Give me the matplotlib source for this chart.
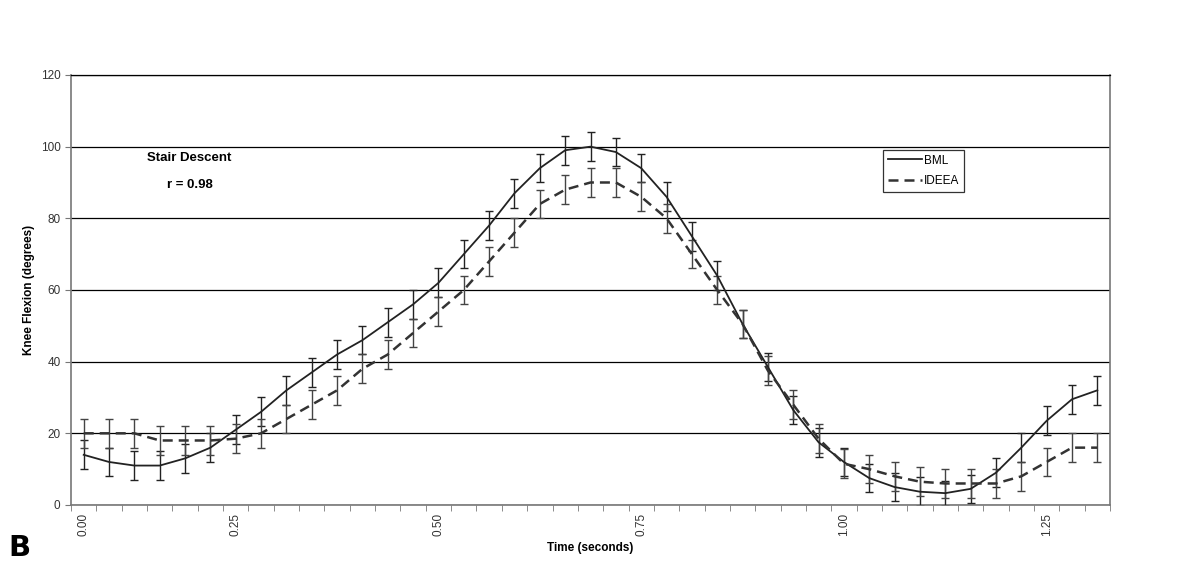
import numpy as np
import matplotlib
matplotlib.use("Agg")
import matplotlib.pyplot as plt

plt.rcParams['font.family'] = ['Liberation Sans', 'DejaVu Sans']

# knee flexion (degrees), one value per sample (category)
bml = [14, 12, 11, 11, 13, 16, 21, 26, 32, 37, 42, 46, 51, 56, 62, 70, 78, 87, 94, 99,
       100, 98.5, 94, 86, 75, 64, 50.5, 38.5, 26.5, 17.5, 12, 7.5, 5, 3.7, 3.3, 4.5, 9,
       16, 23.5, 29.5, 32]
bml_err = [4, 4, 4, 4, 4, 4, 4, 4, 4, 4, 4, 4, 4, 4, 4, 4, 4, 4, 4, 4,
           4, 4, 4, 4, 4, 4, 4, 4, 4, 4, 4, 4, 4, 4, 3.5, 4, 4,
           4, 4, 4, 4]
ideea = [20, 20, 20, 18, 18, 18, 18.5, 20, 24, 28, 32, 38, 42, 48, 54, 60, 68, 76, 84, 88,
         90, 90, 86, 80, 70, 60, 50.5, 37.5, 28, 18.5, 11.5, 10, 8, 6.5, 6, 6, 6,
         8, 12, 16, 16]
ideea_err = [4, 4, 4, 4, 4, 4, 4, 4, 4, 4, 4, 4, 4, 4, 4, 4, 4, 4, 4, 4,
             4, 4, 4, 4, 4, 4, 4, 4, 4, 4, 4, 4, 4, 4, 4, 4, 4,
             4, 4, 4, 4]

# category positions of the time labels shown on the axis
time_label_pos = [0, 6, 14, 22, 30, 38]
time_labels = ["0.00", "0.25", "0.50", "0.75", "1.00", "1.25"]

x = np.arange(len(bml))

fig = plt.figure(figsize=(12, 5.76), dpi=100)
ax = fig.add_axes([0.0592, 0.1233, 0.8658, 0.7465])

ax.set_ylim(0, 120)
ax.set_xlim(-0.5, len(bml) - 0.5)
ax.set_yticks(range(0, 121, 20))
ax.yaxis.grid(True, color='black', linewidth=0.9)
ax.set_axisbelow(True)

ax.errorbar(x, bml, yerr=bml_err, fmt='none', ecolor='#222222', elinewidth=1,
            capsize=2.6, capthick=1, zorder=3)
ax.errorbar(x, ideea, yerr=ideea_err, fmt='none', ecolor='#444444', elinewidth=1,
            capsize=2.6, capthick=1, zorder=3)
ax.plot(x, bml, color='#222222', linewidth=1.3, label='BML', zorder=4)
ax.plot(x, ideea, color='#333333', linewidth=1.8, dashes=(4, 2.4), label='IDEEA', zorder=4)

# category boundary ticks, labels placed at category centres
ax.set_xticks(np.arange(-0.5, len(bml)), minor=True)
ax.set_xticks(time_label_pos)
ax.set_xticklabels(time_labels, rotation=90, fontsize=8.5, color='#333333')
ax.tick_params(axis='x', which='major', length=0, pad=6)
ax.tick_params(axis='x', which='minor', length=4, color='#777777', direction='out')
ax.tick_params(axis='y', length=4, color='#777777', labelsize=8.5, labelcolor='#333333')

for side in ['left', 'bottom', 'right']:
    ax.spines[side].set_color('#777777')
    ax.spines[side].set_linewidth(1.2)
ax.spines['top'].set_color('black')
ax.spines['top'].set_linewidth(0.9)

ax.set_xlabel("Time (seconds)", fontsize=8.5, fontweight='bold', labelpad=4)
ax.set_ylabel("Knee Flexion (degrees)", fontsize=8.5, fontweight='bold', labelpad=4)

ax.text(0.114, 0.807, "Stair Descent", transform=ax.transAxes, ha='center',
        va='center', fontsize=9.5, fontweight='bold')
ax.text(0.114, 0.744, "r = 0.98", transform=ax.transAxes, ha='center',
        va='center', fontsize=9.5, fontweight='bold')

leg = ax.legend(loc='upper left', bbox_to_anchor=(0.7815, 0.826), frameon=True, fancybox=False,
                fontsize=8.5, handlelength=2.9, handletextpad=0.15, borderpad=0.4,
                labelspacing=0.75, borderaxespad=0)
leg.get_frame().set_edgecolor('black')
leg.get_frame().set_linewidth(0.9)

fig.text(0.007, 0.035, "B", fontsize=21, fontweight='bold', family='DejaVu Sans')

fig.savefig("out.png", dpi=100)
